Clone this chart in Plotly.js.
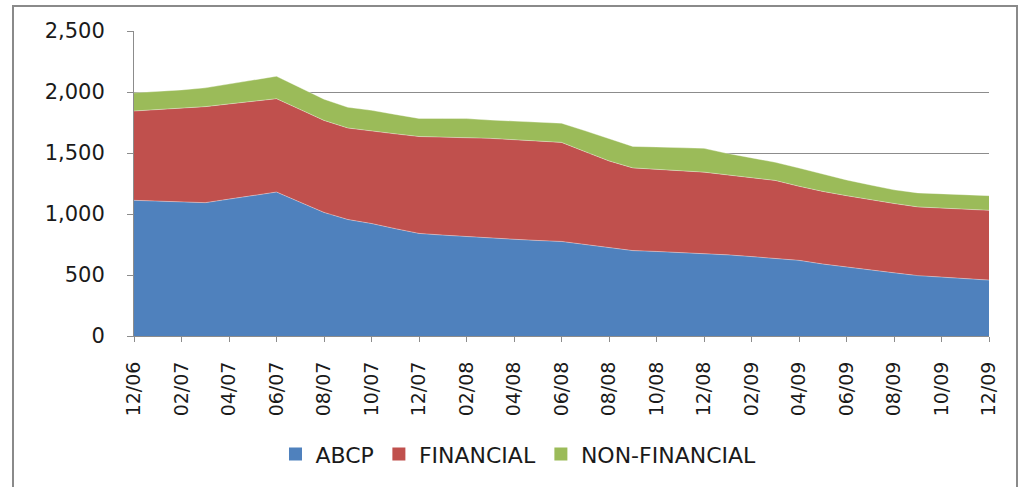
<!DOCTYPE html>
<html>
<head>
<meta charset="utf-8">
<script src="https://cdn.plot.ly/plotly-3.0.1.min.js"></script>
<style>
  html, body { margin: 0; padding: 0; background: #fff; }
  #wrap { position: relative; width: 1021px; height: 487px; overflow: hidden; }
  #chart { position: absolute; left: 0; top: 0; width: 1021px; height: 487px; }
  #frame { position: absolute; left: 12px; top: 5px; width: 1006px; height: 600px;
           border: 2px solid #8a8a8a; pointer-events: none; box-sizing: border-box; }
</style>
</head>
<body>
<div id="wrap">
  <div id="chart"></div>
  <div id="frame"></div>
</div>
<script>
const months = ['12/06',
  '01/07','02/07','03/07','04/07','05/07','06/07','07/07','08/07','09/07','10/07','11/07','12/07',
  '01/08','02/08','03/08','04/08','05/08','06/08','07/08','08/08','09/08','10/08','11/08','12/08',
  '01/09','02/09','03/09','04/09','05/09','06/09','07/09','08/09','09/09','10/09','11/09','12/09'];

const abcp = [1112,1106,1100,1093,1122,1151,1180,1096,1013,955,922,880,841,
  827,814,803,793,783,775,750,725,700,693,685,678,
  665,651,638,620,590,568,543,518,495,482,470,458];

const financial = [732,750,768,787,780,772,765,760,754,750,757,777,794,
  804,813,817,816,815,812,760,710,678,673,670,665,
  655,647,637,607,595,582,574,568,563,567,570,572];

const nonFinancial = [149,147,149,154,163,174,184,179,174,170,171,159,148,
  152,155,150,152,155,157,172,185,176,183,188,195,
  176,161,149,150,141,129,121,112,115,117,118,120];

const seriesNames = ['ABCP', 'FINANCIAL', 'NON-FINANCIAL'];
const seriesColors = ['#4F81BD', '#C0504D', '#9BBB59'];
const seriesValues = [abcp, financial, nonFinancial];

const tickLabels = months.filter((m, i) => i % 2 === 0);

const traces = [];
seriesValues.forEach((vals, k) => {
  traces.push({
    type: 'scatter', mode: 'lines', x: months, y: vals,
    stackgroup: 'one', name: seriesNames[k],
    line: { color: 'rgba(255,255,255,0.35)', width: 1 },
    fillcolor: seriesColors[k], showlegend: false, hoverinfo: 'skip'
  });
});
seriesValues.forEach((vals, k) => {
  traces.push({
    type: 'scatter', mode: 'markers', x: [null], y: [null],
    name: seriesNames[k],
    marker: { symbol: 'square', size: 13, color: seriesColors[k] },
    showlegend: true
  });
});

const layout = {
  width: 1021, height: 487,
  margin: { l: 134, r: 32, t: 31, b: 149 },
  paper_bgcolor: '#fff', plot_bgcolor: '#fff',
  font: { family: 'DejaVu Sans, Verdana, sans-serif', color: '#1a1a1a' },
  showlegend: true,
  xaxis: {
    type: 'category', categoryorder: 'array', categoryarray: months,
    range: [0, 36], tickvals: tickLabels, ticktext: tickLabels,
    tickangle: -90, tickfont: { size: 19, color: '#1a1a1a' },
    showgrid: false, showline: true, linecolor: '#8c8c8c', linewidth: 1,
    ticks: 'outside', ticklen: 5, tickcolor: '#8c8c8c', zeroline: false,
    ticklabelstandoff: 12
  },
  yaxis: {
    range: [0, 2500], dtick: 500, tick0: 0, tickformat: ',d',
    tickfont: { size: 21, color: '#1a1a1a' },
    showgrid: true, gridcolor: '#8c8c8c', gridwidth: 1,
    showline: true, linecolor: '#8c8c8c', linewidth: 1,
    ticks: 'outside', ticklen: 6, tickcolor: '#8c8c8c', zeroline: false,
    ticklabelstandoff: 18
  },
  legend: {
    orientation: 'h', traceorder: 'normal',
    x: 0.4497, xanchor: 'center', y: -0.3876, yanchor: 'middle',
    font: { size: 22, color: '#1a1a1a' }, bgcolor: 'rgba(0,0,0,0)',
    entrywidthmode: 'pixels'
  }
};

Plotly.newPlot('chart', traces, layout, { displayModeBar: false, staticPlot: true });
</script>
</body>
</html>
